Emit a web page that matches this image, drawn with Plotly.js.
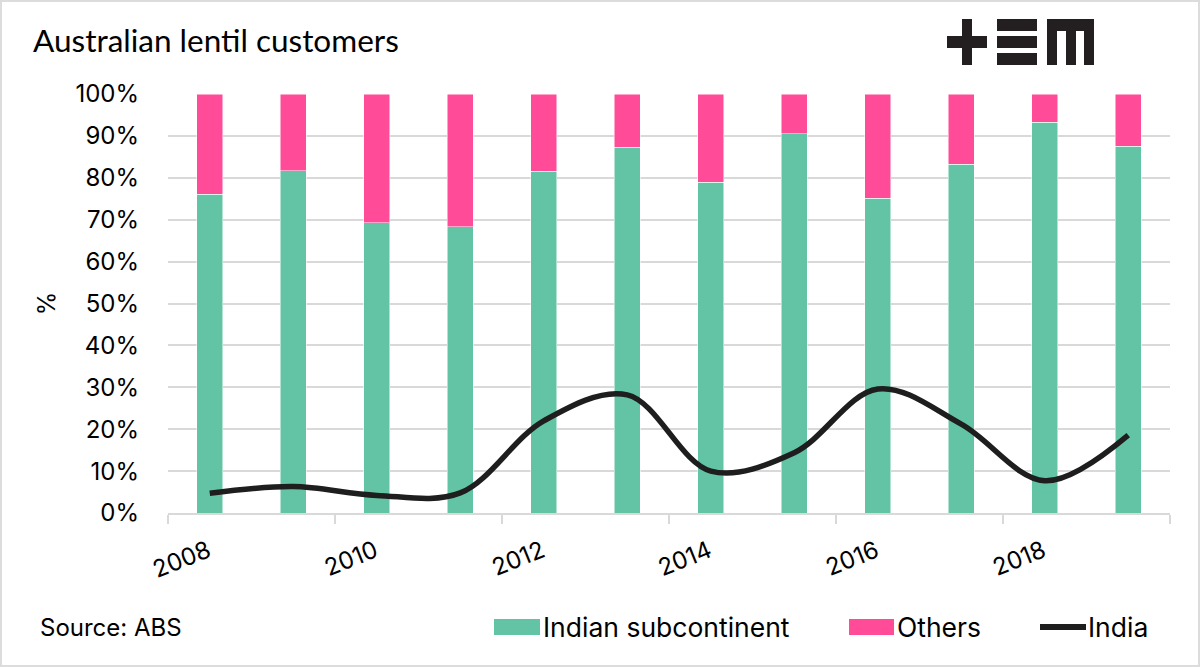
<!DOCTYPE html>
<html>
<head>
<meta charset="utf-8">
<script src="https://cdn.plot.ly/plotly-3.0.1.min.js"></script>
<style>
  html, body { margin: 0; padding: 0; background: #fff; }
  #wrap { position: relative; width: 1200px; height: 667px; }
  #chart { width: 1200px; height: 667px; }
  #frame { position: absolute; left: 0; top: 0; width: 1200px; height: 667px; box-sizing: border-box; border: 2px solid #dcdcdc; pointer-events: none; }
</style>
</head>
<body>
<div id="wrap"><div id="chart"></div><div id="frame"></div></div>
<script>
// ---- data ----
const years = [2008, 2009, 2010, 2011, 2012, 2013, 2014, 2015, 2016, 2017, 2018, 2019];
const indianSubcontinent = [0.761, 0.817, 0.693, 0.683, 0.816, 0.873, 0.789, 0.905, 0.751, 0.832, 0.932, 0.875];
const others = [0.239, 0.183, 0.307, 0.317, 0.184, 0.127, 0.211, 0.095, 0.249, 0.168, 0.068, 0.125];
const india = [0.047, 0.063, 0.042, 0.048, 0.220, 0.282, 0.100, 0.144, 0.296, 0.212, 0.077, 0.186];
const tickYears = [2008, 2010, 2012, 2014, 2016, 2018, 2020];
const tickLabels = ['2008', '2010', '2012', '2014', '2016', '2018', ''];
const seriesNames = ['Indian subcontinent', 'Others', 'India'];

// ---- style ----
const GREEN = '#62c4a5';
const PINK = '#ff4b98';
const LINE = '#1e1e1e';
const GRID = '#d9d9d9';
const TFONT = 'Lato, "Open Sans", sans-serif';
const FONT = 'Inter, "Open Sans", sans-serif';

// bars centred in each year interval
const xMid = years.map(y => y + 0.5);

const W = 1200, H = 667;
const M = { l: 168, r: 30, t: 94, b: 154 };
const PW = W - M.l - M.r, PH = H - M.t - M.b;
const px = x => (x - M.l) / PW;
const py = y => (H - M.b - y) / PH;

const traces = [
  { type: 'bar', name: seriesNames[0], x: xMid, y: indianSubcontinent, width: 0.31,
    marker: { color: GREEN, line: { color: '#ffffff', width: 0.5 } }, showlegend: false, hoverinfo: 'x+y' },
  { type: 'bar', name: seriesNames[1], x: xMid, y: others, width: 0.31,
    marker: { color: PINK, line: { color: '#ffffff', width: 0.5 } }, showlegend: false, hoverinfo: 'x+y' },
  { type: 'scatter', mode: 'lines', name: seriesNames[2], x: xMid, y: india,
    line: { color: LINE, width: 5.5, shape: 'spline', smoothing: 1 }, showlegend: false }
];

const shapes = [];
const rect = (x0, y0, x1, y1, color) => shapes.push({
  type: 'rect', xref: 'paper', yref: 'paper', x0: px(x0), x1: px(x1), y0: py(y1), y1: py(y0),
  fillcolor: color, line: { width: 0 }, layer: 'above'
});
// logo "+EM"
const LOGO = '#231f20';
rect(947, 36, 987, 48, LOGO);   // plus horizontal
rect(962, 19, 972, 65, LOGO);   // plus vertical
rect(997, 19, 1037, 31, LOGO);  // E top
rect(997, 36, 1037, 48, LOGO);  // E mid
rect(997, 53, 1037, 65, LOGO);  // E bottom
rect(1047, 19, 1094, 31, LOGO); // M top
rect(1047, 19, 1057, 65, LOGO); // M left leg
rect(1066, 19, 1076, 65, LOGO); // M mid leg
rect(1084, 19, 1094, 65, LOGO); // M right leg
// legend swatches
rect(494, 619, 540, 635, GREEN);
rect(849, 619, 894, 635, PINK);
shapes.push({ type: 'line', xref: 'paper', yref: 'paper', x0: px(1040), x1: px(1086), y0: py(627), y1: py(627),
  line: { color: LINE, width: 6 }, layer: 'above' });

const ann = (x, y, text, size) => ({
  xref: 'paper', yref: 'paper', x: px(x), y: py(y), text, showarrow: false,
  xanchor: 'left', yanchor: 'middle', font: { family: FONT, size: size, color: '#000' }
});
const annotations = [
  ann(38, 627, 'Source: ABS', 24),
  ann(541, 627, seriesNames[0], 26.5),
  ann(895, 627, seriesNames[1], 26.5),
  ann(1086, 627, seriesNames[2], 26.5)
];

const layout = {
  width: W, height: H,
  margin: M,
  paper_bgcolor: '#ffffff', plot_bgcolor: '#ffffff',
  barmode: 'stack',
  showlegend: false,
  font: { family: FONT, size: 24, color: '#000' },
  title: { text: 'Australian lentil customers', x: 33 / W, xanchor: 'left', xref: 'container',
           y: 1 - 41 / H, yanchor: 'middle', yref: 'container',
           font: { family: TFONT, size: 31.5, color: '#000' } },
  xaxis: {
    range: [2008, 2020], tickmode: 'array', tickvals: tickYears, ticktext: tickLabels,
    tickangle: -22, ticks: 'outside', ticklen: 9, tickcolor: GRID, tickwidth: 2,
    showline: true, linecolor: GRID, linewidth: 2, showgrid: false, zeroline: false,
    ticklabelshift: 40, ticklabelstandoff: 4,
    tickfont: { family: FONT, size: 24, color: '#000' }, fixedrange: true
  },
  yaxis: {
    range: [0, 1], tickformat: '.0%', dtick: 0.1, showgrid: true, gridcolor: GRID, gridwidth: 2,
    zeroline: false, showline: false, ticks: '', ticklabelstandoff: 28,
    title: { text: '%', standoff: 12, font: { family: FONT, size: 24, color: '#000' } },
    tickfont: { family: FONT, size: 24, color: '#000' }, fixedrange: true
  },
  shapes, annotations
};

Plotly.newPlot('chart', traces, layout, { displayModeBar: false, staticPlot: true });
</script>
</body>
</html>
